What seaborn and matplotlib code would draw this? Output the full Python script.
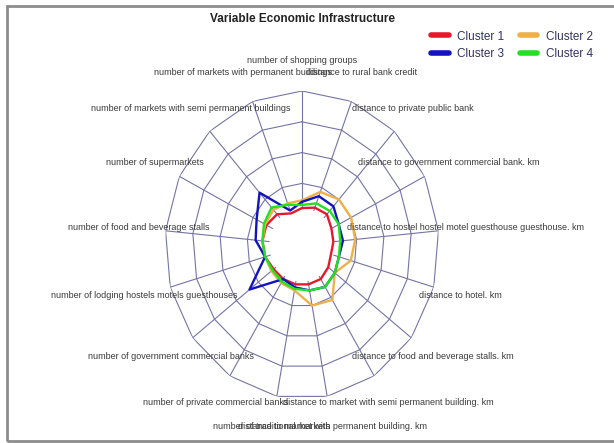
import numpy as np
import pandas as pd
import seaborn as sns
import matplotlib
matplotlib.use("Agg")
import matplotlib.pyplot as plt
from matplotlib.lines import Line2D
from matplotlib.patches import Rectangle

# Spoke labels, clockwise from the top
labels = [
    "number of shopping groups",
    "distance to rural bank credit",
    "distance to private public bank",
    "distance to government commercial bank. km",
    "distance to hostel hostel motel guesthouse guesthouse. km",
    "distance to hotel. km",
    "distance to food and beverage stalls. km",
    "distance to market with semi permanent building. km",
    "distance to market with permanent building. km",
    "number of traditional markets",
    "number of private commercial banks",
    "number of government commercial banks",
    "number of lodging hostels motels guesthouses",
    "number of food and beverage stalls",
    "number of supermarkets",
    "number of markets with semi permanent buildings",
    "number of markets with permanent buildings",
]

cluster_names = ["Cluster 1", "Cluster 2", "Cluster 3", "Cluster 4"]
cluster_1 = [1.2, 1.3, 1.35, 1.2, 1.15, 1.1, 1.2, 1.3, 1.3, 1.3, 1.3, 1.3, 1.4, 1.45, 1.45, 1.35, 1.1]
cluster_2 = [1.45, 1.85, 2.0, 2.0, 1.95, 1.85, 1.5, 2.1, 2.0, 1.5, 1.45, 1.4, 1.4, 1.45, 1.5, 1.55, 1.45]
cluster_3 = [1.4, 1.7, 1.7, 1.5, 1.5, 1.4, 1.5, 1.6, 1.5, 1.4, 1.3, 2.4, 1.4, 1.7, 1.85, 2.3, 1.2]
cluster_4 = [1.3, 1.45, 1.5, 1.5, 1.4, 1.4, 1.5, 1.6, 1.5, 1.45, 1.4, 1.35, 1.4, 1.45, 1.55, 1.65, 1.4]
ring_levels = [2, 3, 4, 5]
inner_radius = 1.2

colors = {"Cluster 1": "#e8182c", "Cluster 2": "#eeb048",
          "Cluster 3": "#1212c0", "Cluster 4": "#22e022"}
grid_color = "#7474a6"

sns.set_theme(style="white")
plt.rcParams["font.family"] = ["Liberation Sans", "DejaVu Sans"]

n = len(labels)
angles = np.linspace(0, 2 * np.pi, n, endpoint=False)
closed = np.append(angles, 2 * np.pi)

rows = []
for name, vals in zip(cluster_names, [cluster_1, cluster_2, cluster_3, cluster_4]):
    for a, v in zip(closed, list(vals) + [vals[0]]):
        rows.append({"theta": a, "value": v, "cluster": name})
df = pd.DataFrame(rows)

fig = plt.figure(figsize=(6.14, 4.43), dpi=100)
ax = fig.add_axes([0.2687, 0.0993, 0.4463, 0.6953], projection="polar")
ax.set_aspect("auto")
ax.set_theta_zero_location("N")
ax.set_theta_direction(-1)
ax.set_ylim(0, ring_levels[-1])
ax.grid(False)
ax.spines["polar"].set_visible(False)
ax.set_xticks([])
ax.set_yticks([])
ax.set_facecolor("none")

# Polygonal grid rings and spokes (spokes start outside the empty centre)
for lv in ring_levels:
    ax.plot(closed, [lv] * len(closed), color=grid_color, lw=0.8, zorder=1)
for a in angles:
    ax.plot([a, a], [inner_radius, ring_levels[-1]], color=grid_color, lw=0.8, zorder=1)

sns.lineplot(data=df, x="theta", y="value", hue="cluster", hue_order=cluster_names,
             palette=colors, sort=False, estimator=None, lw=1.7, legend=False,
             ax=ax, zorder=3)
ax.set_xlabel("")
ax.set_ylabel("")

for a, lab in zip(angles, labels):
    ax.text(a, ring_levels[-1] * 1.2, lab, ha="center", va="center",
            fontsize=6.5, color="#3a3a3a", clip_on=False)

fig.text(0.492, 0.958, "Variable Economic Infrastructure", ha="center", va="center",
         fontsize=8.5, fontweight="bold", color="#222222")

order = ["Cluster 1", "Cluster 3", "Cluster 2", "Cluster 4"]
handles = [Line2D([0], [0], color=colors[c], lw=4) for c in order]
fig.legend(handles, order, ncol=2, loc="upper left",
           bbox_to_anchor=(0.685, 0.955), frameon=False, fontsize=8.5,
           handlelength=1.5, handletextpad=0.7, columnspacing=1.3,
           labelspacing=0.45, labelcolor="#333366")

fig.patches.append(Rectangle((7 / 614, 2 / 443), 1.2, 1 - 8 / 443,
                             transform=fig.transFigure, fill=False,
                             edgecolor="#8c8c8c", lw=2))

fig.savefig("out.png", dpi=100)
